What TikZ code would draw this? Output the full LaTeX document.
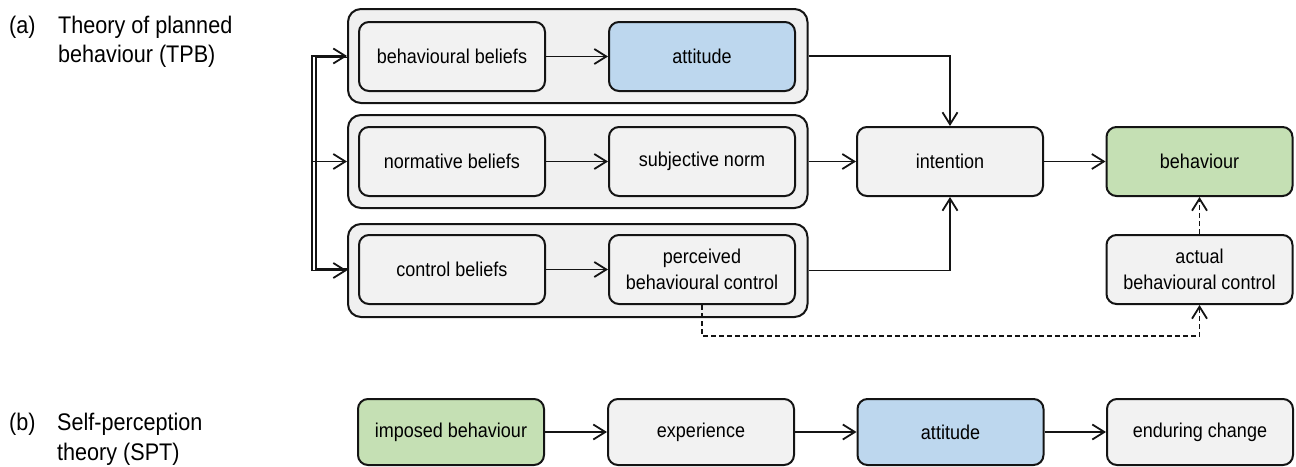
\documentclass[tikz,border=0pt]{standalone}
\usepackage{fontspec}
\setmainfont{Liberation Sans}[FakeStretch=0.9]
\usetikzlibrary{arrows.meta}
\definecolor{boxgray}{HTML}{F2F2F2}
\definecolor{grpgray}{HTML}{F0F0F0}
\definecolor{bluefill}{HTML}{BDD7EE}
\definecolor{greenfill}{HTML}{C5E0B4}
\definecolor{edgecol}{HTML}{141414}
\begin{document}
\begin{tikzpicture}[x=1pt,y=-1pt,
 box/.style={draw=edgecol, line width=2pt, fill=boxgray, rounded corners=10pt, minimum width=186pt, minimum height=69pt, inner sep=0pt, align=center, font=\fontsize{20}{25.5}\selectfont},
 grp/.style={draw=edgecol, line width=2pt, fill=grpgray, rounded corners=13pt, minimum width=459.5pt, minimum height=93pt, inner sep=0pt},
 arr/.style={draw=edgecol, line width=1.8pt, -{Straight Barb[length=12pt,width=15pt,line width=1.8pt]}},
 plain/.style={draw=edgecol, line width=1.8pt},
 darr/.style={arr, dash pattern=on 5pt off 3pt},
 lbl/.style={inner sep=0pt, font=\fontsize{24}{29.5}\selectfont, align=left}]
\useasboundingbox (0,0) rectangle (1296,466);

% groups
\node[grp, minimum height=94pt] (g1) at (577.75,56) {};
\node[grp] (g2) at (577.75,161.5) {};
\node[grp] (g3) at (577.75,270.5) {};

% TPB boxes
\node[box] (bb) at (452,56.5) {behavioural beliefs};
\node[box, fill=bluefill] (att) at (702,56.5) {attitude};
\node[box] (nb) at (452,161.5) {normative beliefs};
\node[box] (sn) at (702,161.5) {subjective norm};
\node[box] (cb) at (452,269.5) {control beliefs};
\node[box] (pbc) at (702,269.5) {perceived\\behavioural control};
\node[box] (int) at (950,161.5) {intention};
\node[box, fill=greenfill] (beh) at (1199.5,161.5) {behaviour};
\node[box] (abc) at (1199.5,269.5) {actual\\behavioural control};

% SPT boxes
\node[box, fill=greenfill, minimum height=66pt] (imp) at (451,432) {imposed behaviour};
\node[box, minimum height=66pt] (exp) at (701,432) {experience};
\node[box, fill=bluefill, minimum height=66pt] (att2) at (950.5,432) {attitude};
\node[box, minimum height=66pt] (endc) at (1200,432) {enduring change};

% labels
\node[lbl, anchor=base west] (la) at (9,33) {(a)};
\node[lbl, anchor=base west] (lat) at (58,62.5) {Theory of planned\\behaviour (TPB)};
\node[lbl, anchor=base west] (lb) at (9,430.5) {(b)};
\node[lbl, anchor=base west] (lbt) at (57,460) {Self-perception\\theory (SPT)};

% left distribution lines
\coordinate (s1) at (312,161.5);
\coordinate (s2) at (316,161.5);
\draw[plain] (s2) |- ([yshift=-1.5pt]g1.west);
\draw[plain] (s2) |- ([yshift=1.5pt]g3.west);
\draw[arr] (s1) |- (g1.west);
\draw[arr] (s1) |- (g3.west);
\draw[arr] (s1) -- (g2.west);

% TPB connectors
\draw[arr] (bb) -- (att);
\draw[arr] (nb) -- (sn);
\draw[arr] (cb) -- (pbc);
\draw[arr] (g1.east) -| (int.north);
\draw[arr] (g2.east) -- (int.west);
\draw[arr] (g3.east) -| (int.south);
\draw[arr] (int) -- (beh);
\draw[darr] (abc) -- (beh);
\draw[darr] (pbc.south) -- ++(0,31) -| (abc.south);

% SPT connectors
\draw[arr] (imp) -- (exp);
\draw[arr] (exp) -- (att2);
\draw[arr] (att2) -- (endc);
\end{tikzpicture}
\end{document}
